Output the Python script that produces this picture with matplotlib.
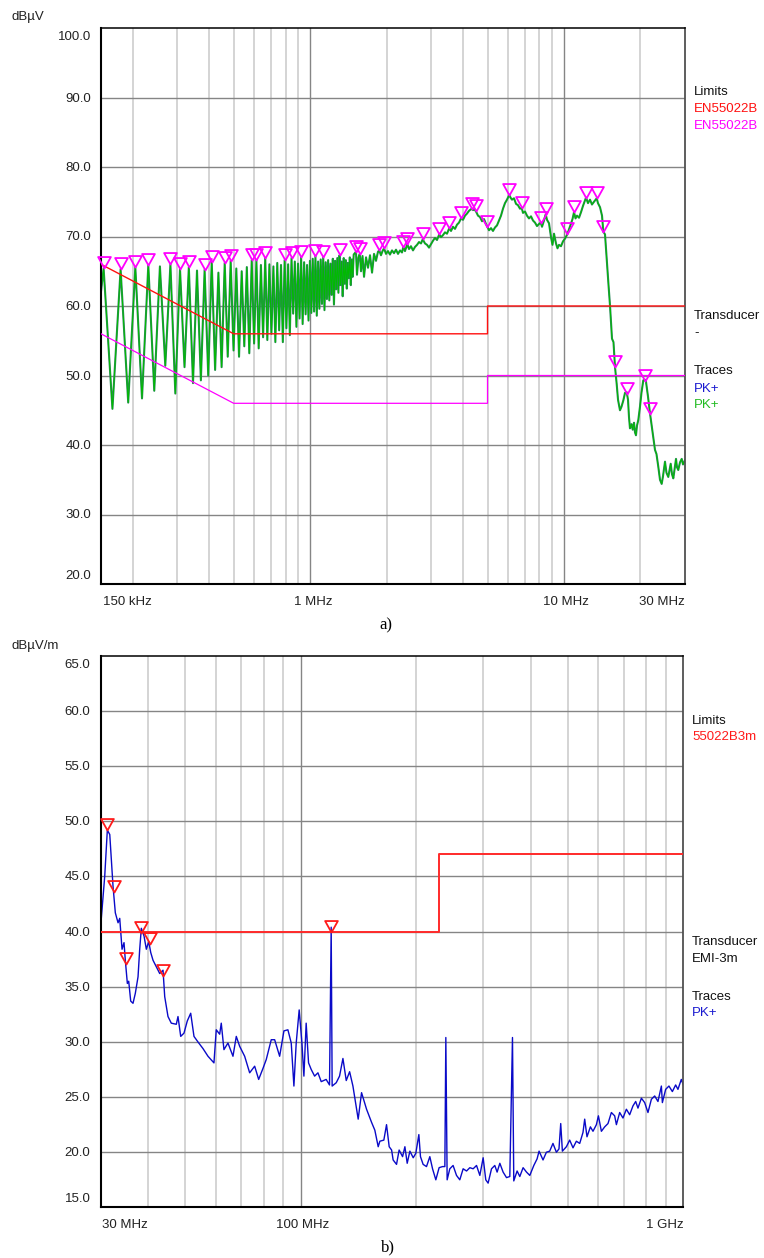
import numpy as np
import matplotlib
matplotlib.use("Agg")
import matplotlib.pyplot as plt
from matplotlib.path import Path

plt.rcParams['font.family'] = ['Liberation Sans', 'DejaVu Sans']

# ---------------- panel a) conducted emission, 150 kHz - 30 MHz ----------------
ce_start_mhz = [0.15]
ce_start_db = [62.1]

# harmonic peaks of the switching ripple
ce_peak_mhz = [0.1536, 0.1792, 0.2048, 0.2304, 0.256, 0.2816, 0.3072, 0.3328, 0.3584, 0.384,
               0.4096, 0.4352, 0.4608, 0.4864, 0.512, 0.5376, 0.5632, 0.5888, 0.6144, 0.64,
               0.6656, 0.6912, 0.7168, 0.7424, 0.768, 0.7936, 0.8192, 0.8448, 0.8704, 0.896,
               0.9216, 0.9472, 0.9728, 0.9984, 1.024, 1.0496, 1.0752, 1.1008, 1.1264, 1.152,
               1.1776, 1.2032, 1.2288, 1.2544, 1.28, 1.3056, 1.3312, 1.3568, 1.3824, 1.408,
               1.4336, 1.4592, 1.4848]
ce_peak_db = [65.4, 65.3, 65.6, 65.9, 65.7, 66.0, 65.3, 65.6, 65.1, 65.2,
              66.4, 64.8, 66.2, 66.5, 65.4, 65.0, 65.6, 66.6, 66.6, 65.9,
              66.9, 66.0, 65.7, 66.2, 65.9, 66.6, 66.0, 66.9, 66.4, 66.1,
              67.0, 66.3, 65.9, 66.5, 66.8, 67.2, 66.4, 66.7, 67.0, 66.3,
              66.6, 66.1, 66.8, 66.5, 66.9, 67.3, 66.4, 66.9, 66.6, 66.2,
              67.0, 66.7, 67.4]

# troughs between the harmonics
ce_trough_mhz = [0.1664, 0.192, 0.2176, 0.2432, 0.2688, 0.2944, 0.32, 0.3456, 0.3712, 0.3968,
                 0.4224, 0.448, 0.4736, 0.4992, 0.5248, 0.5504, 0.576, 0.6016, 0.6272, 0.6528,
                 0.6784, 0.704, 0.7296, 0.7552, 0.7808, 0.8064, 0.832, 0.8576, 0.8832, 0.9088,
                 0.9344, 0.96, 0.9856, 1.0112, 1.0368, 1.0624, 1.088, 1.1136, 1.1392, 1.1648,
                 1.1904, 1.216, 1.2416, 1.2672, 1.2928, 1.3184, 1.344, 1.3696, 1.3952, 1.4208,
                 1.4464, 1.472]
ce_trough_db = [45.2, 46.1, 46.7, 47.8, 51.4, 47.4, 51.2, 48.9, 49.3, 50.0,
                50.8, 51.2, 52.7, 53.6, 52.7, 54.2, 53.2, 54.6, 53.9, 55.5,
                55.1, 56.0, 54.8, 56.5, 54.8, 56.8, 55.8, 58.9, 57.0, 58.2,
                57.4, 58.8, 57.9, 59.0, 59.2, 58.6, 59.6, 60.3, 59.4, 61.0,
                60.8, 61.6, 60.2, 62.4, 61.9, 63.0, 61.4, 63.2, 62.5, 64.0,
                63.0, 64.2]

# continuous part of the spectrum above 1.5 MHz
ce_cont_mhz = [1.516, 1.530, 1.551, 1.570, 1.587, 1.609, 1.631, 1.661, 1.691, 1.722,
               1.754, 1.786, 1.818, 1.851, 1.873, 1.902, 1.929, 1.955, 1.991, 2.027,
               2.064, 2.102, 2.141, 2.180, 2.220, 2.261, 2.302, 2.329, 2.365, 2.415,
               2.453, 2.497, 2.543, 2.590, 2.638, 2.686, 2.735, 2.778, 2.836, 2.888,
               2.941, 2.995, 3.050, 3.105, 3.162, 3.228, 3.279, 3.339, 3.400, 3.462,
               3.535, 3.591, 3.656, 3.723, 3.791, 3.861, 3.931, 4.003, 4.077, 4.151,
               4.228, 4.332, 4.384, 4.444, 4.505, 4.587, 4.671, 4.757, 4.844, 4.932,
               4.991, 5.069, 5.162, 5.255, 5.352, 5.450, 5.550, 5.651, 5.754, 5.860,
               5.967, 6.093, 6.160, 6.244, 6.359, 6.475, 6.594, 6.714, 6.819, 6.900,
               7.026, 7.154, 7.285, 7.419, 7.555, 7.694, 7.834, 7.978, 8.102, 8.199,
               8.348, 8.478, 8.579, 8.736, 8.896, 9.016, 9.141, 9.308, 9.435, 9.565,
               9.739, 9.918, 10.10, 10.31, 10.47, 10.66, 10.81, 10.96, 11.11, 11.26,
               11.47, 11.68, 11.89, 12.05, 12.22, 12.44, 12.67, 12.90, 13.14, 13.47,
               13.62, 13.88, 14.13, 14.30, 14.52, 14.79, 14.99, 15.19, 15.47, 15.68,
               15.90, 16.14, 16.34, 16.63, 16.86, 17.14, 17.41, 17.68, 17.89, 18.05,
               18.21, 18.47, 18.67, 18.89, 19.06, 19.23, 19.41, 19.64, 19.94, 20.21,
               20.55, 20.87, 21.06, 21.44, 21.83, 22.23, 22.85, 23.16, 23.54, 23.91,
               24.28, 24.57, 25.02, 25.36, 25.78, 26.18, 26.35, 26.66, 26.98, 27.40,
               27.65, 27.90, 28.22, 28.67, 29.12, 29.46, 30.0]
ce_cont_db = [67.8, 64.5, 67.0, 67.5, 65.0, 67.2, 64.2, 67.0, 65.5, 67.3,
              64.8, 67.5, 66.5, 67.8, 68.0, 67.3, 67.9, 68.3, 67.5, 67.9,
              67.4, 68.0, 67.6, 68.1, 67.5, 68.0, 67.7, 68.5, 67.9, 68.9,
              68.2, 68.6, 68.0, 68.5, 68.8, 69.2, 69.0, 69.6, 69.0, 68.8,
              68.4, 68.9, 69.4, 69.8, 69.5, 70.3, 69.9, 70.2, 70.6, 70.4,
              71.2, 70.8, 71.4, 71.1, 71.7, 72.0, 72.6, 72.4, 73.0, 73.3,
              73.7, 74.0, 73.8, 73.9, 73.6, 73.0, 72.8, 72.2, 72.5, 71.8,
              71.4, 70.9, 71.2, 70.8, 71.3, 71.6, 72.3, 73.0, 74.0, 74.8,
              75.3, 76.0, 75.6, 75.3, 75.5, 74.7, 74.5, 74.0, 74.1, 73.4,
              73.6, 73.0, 72.6, 72.9, 72.3, 72.0, 71.5, 71.8, 72.0, 71.4,
              72.3, 73.2, 72.4, 71.9, 69.9, 68.8, 70.4, 69.0, 68.3, 68.8,
              68.6, 69.3, 69.7, 70.3, 71.0, 71.8, 72.5, 73.5, 72.6, 73.0,
              72.7, 73.5, 74.4, 75.0, 75.6, 74.8, 75.3, 74.6, 75.0, 75.5,
              74.8, 74.2, 73.0, 70.7, 70.3, 66.0, 63.0, 60.1, 55.3, 54.8,
              51.2, 48.8, 46.5, 45.0, 45.5, 46.4, 47.5, 47.6, 46.5, 44.0,
              42.4, 43.0, 42.2, 43.2, 41.8, 41.4, 42.8, 43.6, 45.5, 47.5,
              49.3, 49.4, 49.1, 47.0, 44.6, 42.5, 39.3, 38.7, 36.9, 35.0,
              34.4, 35.5, 37.6, 36.0, 35.4, 36.8, 37.3, 35.8, 35.2, 37.0,
              38.0, 36.8, 36.4, 37.5, 38.0, 37.2, 37.8]

ce_marker_mhz = [0.1536, 0.1792, 0.2048, 0.2304, 0.2816, 0.3072, 0.3328, 0.384, 0.4096, 0.4608,
                 0.4864, 0.5888, 0.6144, 0.6656, 0.7936, 0.8448, 0.9216, 1.0496, 1.1264, 1.3056,
                 1.516, 1.570, 1.873, 1.955, 2.329, 2.415, 2.778, 3.228, 3.535, 3.931,
                 4.332, 4.505, 4.991, 6.093, 6.819, 8.102, 8.478, 10.31, 10.96, 12.22,
                 13.47, 14.30, 15.90, 17.68, 20.87, 21.83]
ce_marker_db = [65.4, 65.3, 65.6, 65.9, 66.0, 65.3, 65.6, 65.2, 66.4, 66.2,
                66.5, 66.6, 66.6, 66.9, 66.6, 66.9, 67.0, 67.2, 67.0, 67.3,
                67.8, 67.5, 68.0, 68.3, 68.5, 68.9, 69.6, 70.3, 71.2, 72.6,
                74.0, 73.6, 71.4, 76.0, 74.1, 72.0, 73.2, 70.3, 73.5, 75.6,
                75.5, 70.7, 51.2, 47.4, 49.2, 44.4]

ce_limit_mhz = [0.15, 0.5, 0.5, 5, 5, 30]
ce_qp_limit_db = [66, 56, 56, 56, 60, 60]
ce_av_limit_db = [56, 46, 46, 46, 50, 50]

ce_yticks = [20, 30, 40, 50, 60, 70, 80, 90, 100]
ce_xlabels = ["150 kHz", "1 MHz", "10 MHz", "30 MHz"]
ce_xlabel_mhz = [0.15, 1, 10, 30]
ce_minor_grid = [0.2, 0.3, 0.4, 0.5, 0.6, 0.7, 0.8, 0.9, 2, 3, 4, 5, 6, 7, 8, 9, 20]
ce_decade_grid = [1, 10]

# ---------------- panel b) radiated emission, 30 MHz - 1 GHz ----------------
re_mhz = [30.0, 30.77, 31.26, 31.72, 32.02, 32.35, 32.80, 33.34, 33.68, 33.88,
          34.15, 34.56, 34.83, 35.26, 35.55, 35.98, 36.48, 36.99, 37.60, 37.98,
          38.35, 38.98, 39.53, 40.10, 40.59, 41.15, 41.98, 42.84, 43.70, 44.15,
          45.03, 45.93, 47.34, 47.82, 48.61, 49.58, 50.57, 51.62, 52.65, 53.92,
          55.57, 57.28, 59.37, 60.20, 61.45, 62.04, 63.05, 64.59, 66.57, 67.91,
          69.31, 71.42, 73.60, 75.85, 77.70, 79.74, 81.32, 83.81, 85.54, 88.15,
          90.45, 92.64, 94.52, 96.05, 97.39, 99.15, 100.8, 102.0, 103.4, 104.9,
          106.6, 108.8, 111.0, 113.2, 116.6, 119.0, 120.2, 120.9, 123.9, 126.4,
          129.0, 131.6, 134.3, 137.0, 141.4, 144.3, 148.7, 153.3, 156.3, 159.5,
          161.1, 165.0, 167.7, 170.4, 172.9, 174.5, 178.1, 180.9, 184.7, 187.3,
          189.9, 193.0, 196.9, 200.0, 203.7, 205.7, 209.0, 213.3, 217.6, 221.2,
          225.6, 230.1, 234.9, 238.2, 239.6, 241.5, 245.4, 250.3, 255.5, 260.6,
          265.9, 271.4, 276.8, 282.4, 288.2, 294.0, 299.9, 304.7, 309.0, 315.4,
          321.7, 326.2, 331.6, 338.2, 345.2, 352.1, 357.8, 360.6, 367.9, 373.9,
          381.4, 389.3, 397.1, 406.8, 414.9, 419.9, 430.0, 438.8, 447.6, 456.5,
          466.0, 473.3, 478.3, 483.1, 494.9, 504.8, 515.0, 525.5, 536.2, 546.9,
          552.5, 560.2, 571.8, 580.8, 592.8, 600.0, 610.9, 623.1, 635.6, 648.7,
          661.7, 668.6, 682.0, 695.6, 710.0, 724.2, 738.7, 750.9, 761.3, 777.1,
          792.6, 808.5, 825.2, 841.8, 858.6, 876.4, 881.7, 899.3, 917.3, 936.3,
          955.0, 968.3, 988.1, 1000.0]
re_db = [40.3, 45.0, 49.2, 48.8, 46.5, 44.1, 41.7, 40.8, 41.2, 40.0,
         38.4, 39.0, 37.4, 35.3, 35.5, 33.7, 33.5, 34.4, 35.9, 38.4,
         40.3, 39.6, 38.4, 39.1, 38.1, 37.4, 36.8, 36.2, 36.5, 34.1,
         32.3, 31.7, 31.6, 32.3, 30.5, 30.8, 31.9, 32.6, 30.5, 30.0,
         29.4, 28.7, 28.1, 31.1, 30.7, 31.7, 29.3, 29.9, 28.7, 30.5,
         29.6, 28.7, 27.2, 27.8, 26.6, 27.6, 28.4, 30.2, 30.2, 28.7,
         31.0, 31.1, 29.9, 26.0, 29.9, 32.9, 29.9, 26.9, 31.7, 28.1,
         27.5, 26.9, 27.2, 26.4, 26.6, 26.1, 40.4, 26.0, 26.3, 26.9,
         28.5, 26.5, 27.3, 26.0, 23.0, 25.4, 23.9, 22.7, 22.0, 20.5,
         21.0, 21.1, 22.5, 20.5, 20.2, 19.3, 18.9, 20.2, 19.6, 20.5,
         19.0, 20.1, 19.5, 19.9, 21.6, 19.6, 18.9, 18.7, 19.6, 18.5,
         17.5, 18.6, 18.7, 18.7, 30.4, 17.5, 18.5, 18.8, 17.9, 17.5,
         18.5, 18.3, 18.6, 18.5, 18.8, 17.9, 19.5, 17.5, 17.2, 18.5,
         18.8, 18.2, 19.0, 18.2, 17.7, 17.8, 30.4, 17.4, 18.3, 17.8,
         18.6, 18.2, 17.9, 18.8, 19.4, 20.1, 19.3, 20.0, 20.1, 20.8,
         20.0, 20.3, 22.6, 20.1, 20.5, 21.1, 20.4, 21.0, 20.8, 21.8,
         23.0, 21.4, 22.3, 21.9, 22.5, 23.3, 21.9, 22.3, 22.6, 23.6,
         23.3, 22.5, 23.6, 23.1, 23.9, 23.4, 24.2, 24.6, 24.0, 24.9,
         24.5, 23.6, 24.8, 25.1, 24.6, 26.0, 24.5, 25.7, 26.0, 25.5,
         26.1, 25.7, 26.6, 26.1]

re_marker_mhz = [31.26, 32.55, 34.92, 38.21, 40.34, 43.70, 120.2]
re_marker_db = [49.2, 43.6, 37.1, 39.9, 38.9, 36.0, 40.0]

re_limit_mhz = [30, 230, 230, 1000]
re_limit_db = [40, 40, 47, 47]

re_yticks = [15, 20, 25, 30, 35, 40, 45, 50, 55, 60, 65]
re_xlabels = ["30 MHz", "100 MHz", "1 GHz"]
re_xlabel_mhz = [30, 100, 1000]
re_minor_grid = [40, 50, 60, 70, 80, 90, 200, 300, 400, 500, 600, 700, 800, 900]
re_decade_grid = [100]

# ---------------- figure ----------------
W, H = 764, 1258
fig = plt.figure(figsize=(W / 100, H / 100), dpi=100)


def px_rect(l, t, r, b):
    return [l / W, 1 - b / H, (r - l) / W, (b - t) / H]


ax1 = fig.add_axes(px_rect(101, 28, 685, 584))
ax2 = fig.add_axes(px_rect(100.5, 655.8, 683.3, 1207.4))

tri = Path([(0, 0), (-1, 1.8), (1, 1.8), (0, 0)],
           [Path.MOVETO, Path.LINETO, Path.LINETO, Path.CLOSEPOLY])

FS = 9.5


def style_axes(ax, xlim, yticks, minor_grid, decade_grid, xlabels, xlabel_pos, xl_ha, xl_dx):
    ax.set_xscale('log')
    ax.set_xlim(*xlim)
    ax.set_ylim(yticks[0], yticks[-1])
    ax.set_xticks([])
    ax.set_xticks([], minor=True)
    ax.set_yticks([])
    ax.tick_params(length=0)
    for f in minor_grid:
        ax.axvline(f, color='#c9c9c9', lw=1.1, zorder=0.5)
    for f in decade_grid:
        ax.axvline(f, color='#858585', lw=1.0, zorder=0.6)
    for v in yticks[1:-1]:
        ax.axhline(v, color='#858585', lw=1.0, zorder=0.6)
    for s in ['left', 'bottom']:
        ax.spines[s].set_linewidth(1.5)
        ax.spines[s].set_color('black')
    ax.spines['top'].set_linewidth(1.1)
    ax.spines['top'].set_color('black')
    ax.spines['right'].set_linewidth(1.3)
    ax.spines['right'].set_color('#505050')
    n = len(yticks)
    for i, v in enumerate(yticks):
        dy = -9 if i == n - 1 else (8 if i == 0 else -1)
        ax.annotate(f'{v:.1f}', xy=(0, v), xycoords=('axes fraction', 'data'),
                    xytext=(-10, dy), textcoords='offset pixels', ha='right', va='center',
                    fontsize=FS, color='#222222', annotation_clip=False)
    for lbl, f, ha, dx in zip(xlabels, xlabel_pos, xl_ha, xl_dx):
        ax.annotate(lbl, xy=(f, 0), xycoords=('data', 'axes fraction'),
                    xytext=(dx, -18), textcoords='offset pixels', ha=ha, va='center',
                    fontsize=FS, color='#222222', annotation_clip=False)


style_axes(ax1, (0.15, 30), ce_yticks, ce_minor_grid, ce_decade_grid,
           ce_xlabels, ce_xlabel_mhz, ['left', 'center', 'center', 'right'], [2, 3, 2, 0])
style_axes(ax2, (30, 1000), re_yticks, re_minor_grid, re_decade_grid,
           re_xlabels, re_xlabel_mhz, ['left', 'center', 'right'], [2, 2, 0])

# panel a traces
f_all = np.concatenate([ce_start_mhz, ce_peak_mhz, ce_trough_mhz, ce_cont_mhz])
d_all = np.concatenate([ce_start_db, ce_peak_db, ce_trough_db, ce_cont_db])
order = np.argsort(f_all)
ax1.plot(f_all[order], d_all[order], color='#2f8a5e', lw=1.5, zorder=2)
ax1.plot(f_all[order], d_all[order], color='#00bb00', lw=0.7, zorder=2.1)
ax1.plot(ce_limit_mhz, ce_qp_limit_db, color='#ff1010', lw=1.0, zorder=3)
ax1.plot(ce_limit_mhz, ce_av_limit_db, color='#ff00ff', lw=0.9, zorder=3)
ax1.plot(ce_marker_mhz, ce_marker_db, ls='none', marker=tri, ms=16.5, mfc='none',
         mec='#ff00ff', mew=1.3, zorder=5, clip_on=False)

# panel b traces
ax2.plot(re_mhz, re_db, color='#0a0ac8', lw=1.0, zorder=2)
ax2.plot(re_limit_mhz, re_limit_db, color='#ff2a2a', lw=1.4, zorder=3)
ax2.plot(re_marker_mhz, re_marker_db, ls='none', marker=tri, ms=16.5, mfc='none',
         mec='#ff1a1a', mew=1.3, zorder=5, clip_on=False)


def ftext(x, y, s, **kw):
    kw.setdefault('fontsize', FS)
    kw.setdefault('va', 'center')
    kw.setdefault('ha', 'left')
    fig.text(x / W, 1 - y / H, s, **kw)


# unit labels
ftext(12, 17, 'dBµV', color='#222222')
ftext(12, 646, 'dBµV/m', color='#222222')

# side legends panel a
ftext(694, 92, 'Limits', color='#111111')
ftext(694, 108.5, 'EN55022B', color='#ff1010')
ftext(694, 126, 'EN55022B', color='#ff00ff')
ftext(694, 315.5, 'Transducer', color='#111111')
ftext(694, 333, '-', color='#111111')
ftext(694, 371.5, 'Traces', color='#111111')
ftext(694, 388.5, 'PK+', color='#1a1ad0')
ftext(694, 405, 'PK+', color='#22bb22')

# side legends panel b
ftext(692, 721, 'Limits', color='#111111')
ftext(692, 737.5, '55022B3m', color='#ff1a1a')
ftext(692, 942, 'Transducer', color='#111111')
ftext(692, 959, 'EMI-3m', color='#111111')
ftext(692, 997.5, 'Traces', color='#111111')
ftext(692, 1013.5, 'PK+', color='#1a1ad0')

# captions
ftext(386, 625, 'a)', ha='center', fontsize=12, family=['Liberation Serif', 'DejaVu Serif'])
ftext(388, 1247, 'b)', ha='center', fontsize=12, family=['Liberation Serif', 'DejaVu Serif'])

fig.savefig('out.png', dpi=100)
